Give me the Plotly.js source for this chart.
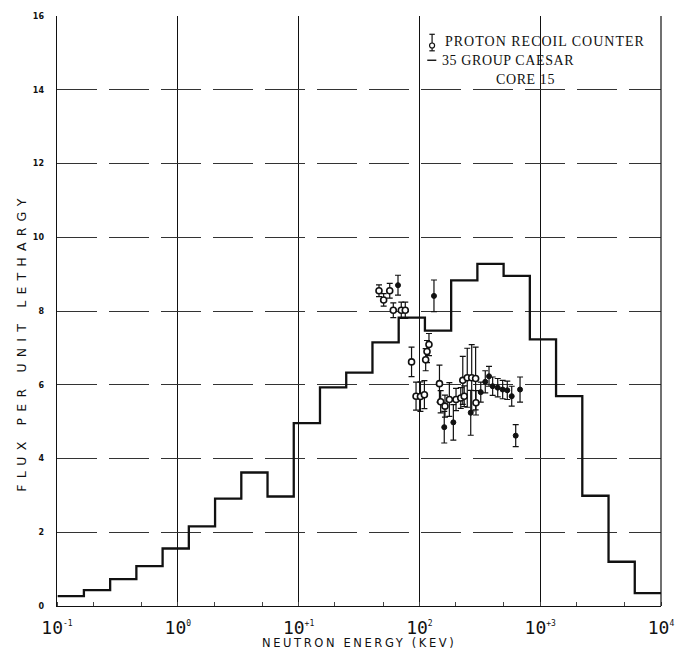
<!DOCTYPE html>
<html>
<head>
<meta charset="utf-8">
<script src="https://cdn.plot.ly/plotly-3.0.1.min.js"></script>
<style>
  html, body { margin: 0; padding: 0; background: #fff; }
  #chart { width: 683px; height: 651px; }
</style>
</head>
<body>
<div id="chart"></div>
<script>
// 35 group CAESAR calculation: group boundaries (keV, ascending) and flux per unit lethargy
const groupBounds = [0.1013, 0.1670, 0.2754, 0.4540, 0.7485, 1.234, 2.035, 3.355, 5.531,
  9.119, 15.03, 24.79, 40.87, 67.38, 111.1, 183.2, 302.0, 497.9, 820.8, 1353, 2231, 3679, 6065, 10000];
const groupFlux = [0.27, 0.43, 0.73, 1.08, 1.56, 2.16, 2.91, 3.62, 2.97, 4.96, 5.93, 6.33,
  7.15, 7.82, 7.47, 8.83, 9.28, 8.95, 7.23, 5.69, 2.99, 1.20, 0.35];

// Proton recoil counter measurements (open symbols)
const recoilOpenE   = [46.3, 50.6, 56.8, 60.8, 70.8, 76.4, 86.1, 93.8, 102, 110, 112.7, 115.6, 120,
  146.6, 150, 162.8, 177, 201, 220, 235, 228.6, 249, 271, 292, 294];
const recoilOpenF   = [8.55, 8.30, 8.55, 8.02, 8.02, 8.02, 6.62, 5.69, 5.68, 5.73, 6.68, 6.90, 7.09,
  6.03, 5.54, 5.42, 5.60, 5.60, 5.64, 5.69, 6.12, 6.19, 6.19, 6.17, 5.51];
const recoilOpenErr = [0.16, 0.17, 0.20, 0.20, 0.22, 0.22, 0.40, 0.38, 0.40, 0.38, 0.30, 0.30, 0.30,
  0.50, 0.30, 0.30, 0.46, 0.30, 0.28, 0.28, 0.65, 0.80, 0.90, 0.85, 0.33];

// Proton recoil counter measurements (solid symbols)
const recoilSolidE   = [66.5, 132, 160.6, 191, 266, 322, 351, 377, 404, 445, 489, 534, 581, 627, 681];
const recoilSolidF   = [8.70, 8.41, 4.85, 4.98, 5.24, 5.80, 6.08, 6.23, 5.96, 5.92, 5.87, 5.85, 5.69, 4.62, 5.87];
const recoilSolidErr = [0.27, 0.43, 0.43, 0.48, 0.61, 0.27, 0.30, 0.27, 0.25, 0.25, 0.25, 0.25, 0.27, 0.30, 0.34];

// Axis ticks
const xTickVals = [0.1, 1, 10, 100, 1000, 10000];
const xTickText = ['-1', '0', '+1', '2', '+3', '4'];
const yTickVals = [0, 2, 4, 6, 8, 10, 12, 14, 16];

const INK = '#111';

const stepY = groupFlux.concat([groupFlux[groupFlux.length - 1]]);

const errStyle = (arr) => ({ type: 'data', array: arr, visible: true, color: INK, thickness: 1.2, width: 3 });

const traces = [
  {
    x: groupBounds, y: stepY, mode: 'lines', line: { shape: 'hv', color: INK, width: 2.3 },
    hoverinfo: 'skip', showlegend: false
  },
  {
    x: recoilOpenE, y: recoilOpenF, mode: 'markers', showlegend: false,
    marker: { symbol: 'circle', size: 6, color: '#fff', line: { color: INK, width: 1.6 } },
    error_y: errStyle(recoilOpenErr)
  },
  {
    x: recoilSolidE, y: recoilSolidF, mode: 'markers', showlegend: false,
    marker: { symbol: 'circle', size: 5, color: INK, line: { color: INK, width: 1 } },
    error_y: errStyle(recoilSolidErr)
  }
];

const legendFont = { family: 'Liberation Serif, serif', size: 14, color: INK };
const spaced = (t, px) => '<span style="letter-spacing:' + px + 'px">' + t + '</span>';

const layout = {
  width: 683, height: 651,
  margin: { l: 57, r: 22, t: 16, b: 45 },
  paper_bgcolor: '#fff', plot_bgcolor: '#fff',
  showlegend: false,
  xaxis: {
    type: 'log', range: [-1, 4],
    tickvals: xTickVals,
    ticktext: xTickText.map(s => '10<sup><span style="font-size:8px">' + s + '</span></sup>'),
    tickfont: { family: 'DejaVu Sans Mono, monospace', size: 18, color: INK },
    ticks: '', ticklabelstandoff: 5,
    showgrid: true, gridcolor: INK, gridwidth: 1.2,
    showline: true, linecolor: INK, linewidth: 1.2, mirror: false,
    zeroline: false,
    minor: { ticks: 'inside', ticklen: 4, tickcolor: '#444', tickwidth: 1, showgrid: false }
  },
  yaxis: {
    range: [0, 16],
    tickvals: yTickVals,
    tickfont: { family: 'DejaVu Sans, sans-serif', size: 8, color: INK, weight: 'bold' },
    ticks: '', ticklabelstandoff: 10,
    showgrid: true, gridcolor: '#333', gridwidth: 1, griddash: '40px,12px',
    showline: true, linecolor: INK, linewidth: 1.4, mirror: false,
    zeroline: false
  },
  annotations: [
    {
      xref: 'paper', yref: 'paper', x: 0.5, y: -0.0635, xanchor: 'center', yanchor: 'middle',
      text: spaced('NEUTRON ENERGY (KEV)', 2.6), showarrow: false,
      font: { family: 'DejaVu Sans, sans-serif', size: 11.5, color: INK }
    },
    {
      xref: 'paper', yref: 'paper', x: -0.058, y: 0.448, xanchor: 'center', yanchor: 'middle',
      textangle: -90, text: spaced('FLUX PER UNIT LETHARGY', 6.2), showarrow: false,
      font: { family: 'DejaVu Sans, sans-serif', size: 12.5, color: INK }
    },
    {
      xref: 'paper', yref: 'paper', x: 0.639, y: 0.956, xanchor: 'left', yanchor: 'middle',
      text: spaced('PROTON RECOIL COUNTER', 1), showarrow: false, font: legendFont
    },
    {
      xref: 'paper', yref: 'paper', x: 0.634, y: 0.925, xanchor: 'left', yanchor: 'middle',
      text: spaced('35 GROUP CAESAR', 0.6), showarrow: false, font: legendFont
    },
    {
      xref: 'paper', yref: 'paper', x: 0.775, y: 0.893, xanchor: 'center', yanchor: 'middle',
      text: spaced('CORE 15', 0.6), showarrow: false, font: legendFont
    }
  ],
  shapes: [
    // legend glyph: error bar with symbol
    { type: 'line', xref: 'paper', yref: 'paper', x0: 0.621, x1: 0.621, y0: 0.941, y1: 0.969, line: { color: INK, width: 1.2 } },
    { type: 'line', xref: 'paper', yref: 'paper', x0: 0.6165, x1: 0.6255, y0: 0.969, y1: 0.969, line: { color: INK, width: 1.2 } },
    { type: 'line', xref: 'paper', yref: 'paper', x0: 0.6165, x1: 0.6255, y0: 0.941, y1: 0.941, line: { color: INK, width: 1.2 } },
    { type: 'circle', xref: 'paper', yref: 'paper', xsizemode: 'pixel', ysizemode: 'pixel',
      xanchor: 0.621, yanchor: 0.950, x0: -2.5, x1: 2.5, y0: -2.5, y1: 2.5,
      line: { color: INK, width: 1.2 }, fillcolor: '#fff' },
    // legend glyph: calculated histogram
    { type: 'line', xref: 'paper', yref: 'paper', x0: 0.613, x1: 0.628, y0: 0.925, y1: 0.925, line: { color: INK, width: 1.4 } },
    // frame on the right
    { type: 'line', xref: 'paper', yref: 'paper', x0: 1, x1: 1, y0: 0, y1: 1, line: { color: INK, width: 1.2 } }
  ]
};

Plotly.newPlot('chart', traces, layout, { staticPlot: true, displayModeBar: false });
</script>
</body>
</html>
